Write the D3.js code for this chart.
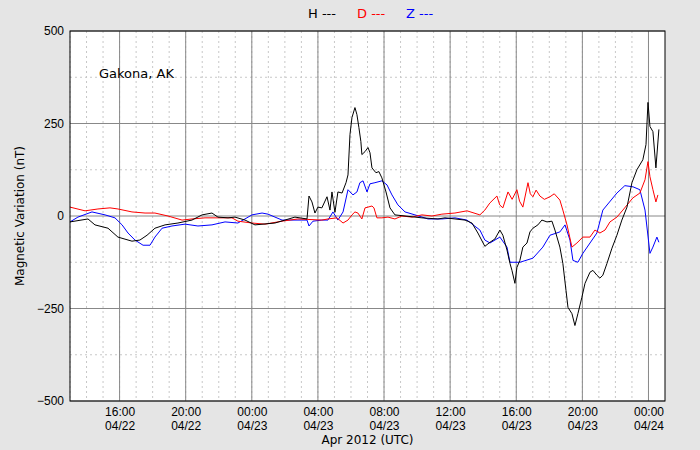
<!DOCTYPE html>
<html>
<head>
<meta charset="utf-8">
<script src="https://cdn.jsdelivr.net/npm/d3@7"></script>
<style>
  body { margin: 0; background: #e5e5e5; }
  svg { font-family: "DejaVu Sans", sans-serif; }
</style>
</head>
<body>
<div id="chart"></div>
<script>
// hours since 2012-04-22 13:00 UTC, and values in nT
var hHours = [0,1.09,1.51,2.3,2.9,3.75,4.23,4.66,5.14,5.75,6.53,7.38,7.99,8.59,8.95,9.56,9.98,10.59,11.19,12.4,13.61,14.34,14.46,14.64,14.82,15.0,15.24,15.55,15.73,15.85,16.03,16.21,16.46,16.7,16.82,16.94,17.06,17.24,17.36,17.48,17.6,17.66,17.85,18.03,18.15,18.27,18.51,18.69,18.87,19.12,19.36,19.66,20.27,21.29,22.26,22.69,23.9,24.32,24.68,25.1,25.41,25.71,26.01,26.19,26.44,26.62,26.74,26.92,27.04,27.22,27.4,27.65,27.83,28.01,28.31,28.55,28.86,29.16,29.34,29.64,29.82,30.01,30.13,30.37,30.55,30.73,30.97,31.16,31.46,31.64,31.88,32.06,32.24,32.49,32.79,33.09,33.39,33.7,34.0,34.3,34.66,34.85,34.97,35.09,35.27,35.45,35.63];
var hValues = [-16,-8,-24,-33,-57,-68,-65,-52,-33,-24,-19,-11,3,8,-3,-5,-3,-11,-24,-19,-3,-8,54,38,8,24,22,52,16,65,10,65,62,90,111,220,266,293,274,239,201,166,174,185,171,130,117,120,103,65,22,3,0,-5,-8,-5,-11,-19,-46,-82,-71,-62,-38,-52,-92,-128,-147,-182,-139,-120,-84,-73,-43,-33,-24,-11,-16,-14,-38,-84,-128,-201,-247,-264,-296,-264,-220,-182,-152,-147,-160,-168,-160,-128,-87,-52,-11,24,90,125,152,193,307,242,228,130,234];

var dHours = [0,0.91,1.69,2.42,2.9,3.75,4.54,5.14,5.93,6.78,7.38,8.17,8.95,9.8,10.16,11.01,11.8,12.83,13.79,15.24,15.61,16.15,16.52,16.82,17.06,17.24,17.42,17.66,17.85,18.03,18.27,18.39,18.57,18.87,19.24,19.66,20.08,20.69,21.29,21.9,22.5,23.29,24.02,24.8,25.1,25.4,25.83,26.0,26.19,26.5,26.75,27.04,27.2,27.4,27.71,27.85,28.01,28.2,28.43,28.7,29.04,29.3,29.64,29.82,30.07,30.37,30.67,31.03,31.46,31.76,32.06,32.37,32.67,33.09,33.45,34.06,34.48,34.79,34.97,35.09,35.27,35.45,35.57];
var dValues = [24,14,19,22,19,11,8,8,0,-11,-8,-5,-5,-5,-14,-19,-22,-14,-8,-11,-8,-5,-19,-11,3,11,8,-8,22,24,27,22,-5,-5,-3,-8,0,-3,3,0,5,8,14,3,16,35,54,30,22,65,45,71,40,24,90,60,52,70,54,45,52,60,43,16,-24,-84,-73,-57,-57,-38,-46,-38,-16,-3,16,49,62,98,147,106,71,38,57];

var zHours = [0,0.48,1.33,2.12,2.72,3.15,3.51,3.93,4.42,4.84,5.14,5.57,6.17,6.96,7.74,8.59,9.38,10.16,11.01,11.62,11.98,12.83,14.03,14.34,14.46,14.7,15.24,15.61,15.91,16.21,16.52,16.82,17.12,17.36,17.54,17.73,17.97,18.15,18.45,18.87,19.18,19.48,19.84,20.27,20.87,21.66,22.5,23.29,24.02,24.8,25.1,25.41,26.01,26.44,26.62,27.22,28.01,28.61,29.04,29.64,29.95,30.25,30.43,30.73,31.03,31.88,32.24,33.09,33.57,34.06,34.48,34.79,35.09,35.27,35.51,35.63];
var zValues = [-16,-3,11,3,-5,-24,-46,-65,-79,-79,-57,-33,-27,-22,-27,-24,-16,-19,3,8,5,-11,-11,-11,-27,-14,-11,-11,11,-11,11,71,57,65,90,95,65,87,90,95,84,57,30,11,3,-8,-8,-5,-11,-38,-65,-73,-57,-84,-125,-125,-114,-84,-52,-43,-24,-65,-120,-125,-101,-46,16,62,82,79,71,16,-101,-84,-57,-71];

var yTicks = [-500, -250, 0, 250, 500];
var legendItems = ['H ---', 'D ---', 'Z ---'];
var seriesColors = ['black', 'red', 'blue'];

var width = 700, height = 450;
var margin = {top: 31, right: 35, bottom: 49, left: 70};
var start = Date.UTC(2012, 3, 22, 13);
var end = Date.UTC(2012, 3, 24, 1);
var toDate = h => new Date(start + h * 3600e3);

var svg = d3.select('#chart').append('svg')
    .attr('width', width)
    .attr('height', height);

var x = d3.scaleUtc()
    .domain([new Date(start), new Date(end)])
    .range([margin.left, width - margin.right]);
var y = d3.scaleLinear()
    .domain([-500, 500])
    .range([height - margin.bottom, margin.top]);

svg.append('rect')
    .attr('x', margin.left).attr('y', margin.top)
    .attr('width', x.range()[1] - margin.left)
    .attr('height', y.range()[0] - margin.top)
    .attr('fill', 'white');

// minor grid
svg.append('g').selectAll('line')
    .data(d3.utcHour.range(new Date(start), new Date(end)))
    .enter().append('line')
    .attr('x1', d => x(d)).attr('x2', d => x(d))
    .attr('y1', margin.top).attr('y2', y.range()[0])
    .attr('stroke', '#c8c8c8').attr('stroke-dasharray', '2,3');
svg.append('g').selectAll('line')
    .data([-375, -125, 125, 375])
    .enter().append('line')
    .attr('x1', margin.left).attr('x2', x.range()[1])
    .attr('y1', d => y(d)).attr('y2', d => y(d))
    .attr('stroke', '#c8c8c8').attr('stroke-dasharray', '2,3');

// major grid
var xTicks = d3.utcHour.every(4).range(new Date(start), new Date(end));
svg.append('g').selectAll('line')
    .data(xTicks)
    .enter().append('line')
    .attr('x1', d => x(d)).attr('x2', d => x(d))
    .attr('y1', margin.top).attr('y2', y.range()[0])
    .attr('stroke', '#888');
svg.append('g').selectAll('line')
    .data(yTicks)
    .enter().append('line')
    .attr('x1', margin.left).attr('x2', x.range()[1])
    .attr('y1', d => y(d)).attr('y2', d => y(d))
    .attr('stroke', '#888');

var line = d3.line()
    .x(d => x(toDate(d[0])))
    .y(d => y(d[1]));

var series = [
    d3.zip(hHours, hValues),
    d3.zip(dHours, dValues),
    d3.zip(zHours, zValues)
];
// draw Z, D, H so H lies on top
[2, 1, 0].forEach(function(i) {
    svg.append('path')
        .datum(series[i])
        .attr('d', line)
        .attr('fill', 'none')
        .attr('stroke', seriesColors[i])
        .attr('stroke-width', 1);
});

svg.append('rect')
    .attr('x', margin.left).attr('y', margin.top)
    .attr('width', x.range()[1] - margin.left)
    .attr('height', y.range()[0] - margin.top)
    .attr('fill', 'none').attr('stroke', 'black');

// axes
var fmtTime = d3.utcFormat('%H:%M'), fmtDay = d3.utcFormat('%m/%d');
var xAxis = svg.append('g')
    .attr('transform', 'translate(0,' + y.range()[0] + ')')
    .call(d3.axisBottom(x).tickValues(xTicks).tickSize(0).tickPadding(6).tickFormat(fmtTime));
xAxis.select('.domain').remove();
xAxis.selectAll('text').attr('font-size', 12).attr('fill', 'black')
    .each(function(d) {
        d3.select(this).append('tspan').attr('x', 0).attr('dy', '1.2em').text(fmtDay(d));
    });
var yAxis = svg.append('g')
    .attr('transform', 'translate(' + margin.left + ',0)')
    .call(d3.axisLeft(y).tickValues(yTicks).tickSize(0).tickPadding(6).tickFormat(d3.format('d')));
yAxis.select('.domain').remove();
yAxis.selectAll('text').attr('font-size', 12).attr('fill', 'black');

svg.append('text')
    .attr('x', (margin.left + x.range()[1]) / 2).attr('y', 444)
    .attr('text-anchor', 'middle').attr('font-size', 12)
    .text('Apr 2012 (UTC)');
svg.append('text')
    .attr('transform', 'translate(24,' + ((margin.top + y.range()[0]) / 2) + ') rotate(-90)')
    .attr('text-anchor', 'middle').attr('font-size', 12)
    .text('Magnetic Variation (nT)');
svg.append('text')
    .attr('x', 99).attr('y', 78).attr('font-size', 13)
    .text('Gakona, AK');

svg.append('g').selectAll('text')
    .data(legendItems)
    .enter().append('text')
    .attr('x', (d, i) => 308 + i * 49).attr('y', 18)
    .attr('font-size', 13)
    .attr('fill', (d, i) => seriesColors[i])
    .text(d => d);
</script>
</body>
</html>
